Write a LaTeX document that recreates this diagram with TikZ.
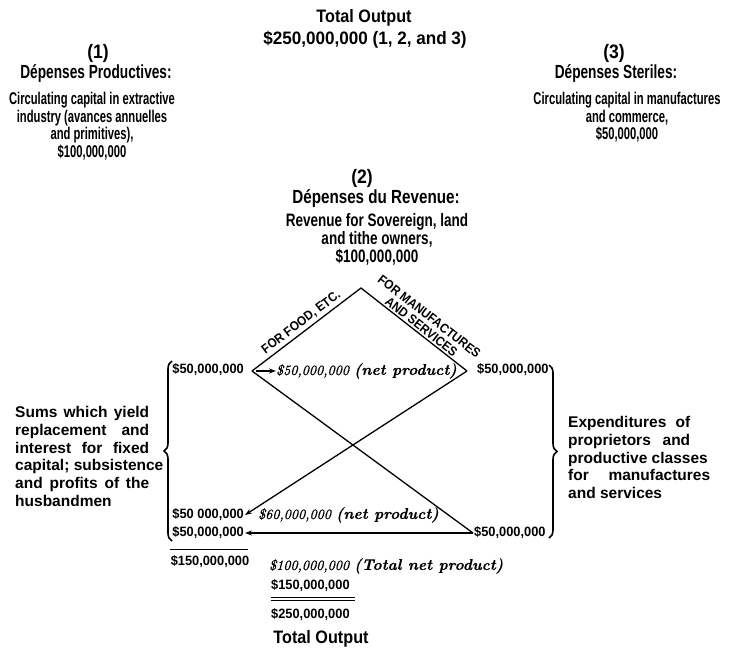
\documentclass[tikz,border=0pt]{standalone}
\usepackage{fontspec}
\usetikzlibrary{arrows.meta,decorations.pathreplacing}
\newfontfamily\fTop{Liberation Sans}[FakeStretch=0.9]
\newfontfamily\fTopN{Liberation Sans}[FakeStretch=0.95]
\newfontfamily\fHead{Liberation Sans}[FakeStretch=0.72]
\newfontfamily\fHeadB{Liberation Sans}[FakeStretch=0.8]
\newfontfamily\fBody{Liberation Sans}[FakeStretch=0.66]
\newfontfamily\fBodyB{Liberation Sans}[FakeStretch=0.75]
\newfontfamily\fSide{Liberation Sans}
\newfontfamily\fNum{Liberation Sans}[FakeStretch=0.95]
\newfontfamily\fLab{Liberation Sans}[FakeStretch=0.9]
\newfontfamily\fIt{lmroman10-italic.otf}[FakeBold=0.7]
\newfontfamily\fBI{lmroman10-bolditalic.otf}[FakeBold=0.4]
\newcommand\jbox[2]{\makebox[#1][s]{#2}}
\newcommand\bitext[1]{{\fBI\fontsize{15.5}{17}\selectfont#1}}
\begin{document}
\begin{tikzpicture}[x=1pt,y=-1pt,
  txt/.style={inner sep=0pt, align=center},
  toptxt/.style={txt, font=\fTop\bfseries\fontsize{18}{20}\selectfont},
  topnum/.style={txt, font=\fTopN\bfseries\fontsize{18}{20}\selectfont},
  numhead/.style={txt, font=\fTop\bfseries\fontsize{19.5}{20}\selectfont},
  headtxt/.style={txt, font=\fHead\bfseries\fontsize{19}{20}\selectfont},
  headtxtB/.style={txt, font=\fHeadB\bfseries\fontsize{19}{20}\selectfont},
  bodytxt/.style={txt, font=\fBody\bfseries\fontsize{17}{17.6}\selectfont},
  bodytxtB/.style={txt, font=\fBodyB\bfseries\fontsize{18}{18}\selectfont},
  sidetxt/.style={inner sep=0pt, align=left, font=\fSide\bfseries\fontsize{15.5}{17.8}\selectfont},
  numtxt/.style={inner sep=1pt, font=\fNum\bfseries\fontsize{13.5}{14}\selectfont},
  italtxt/.style={inner sep=0pt, font=\fIt\fontsize{14}{17}\selectfont},
  labtxt/.style={inner sep=3pt, font=\fLab\bfseries\fontsize{13}{13}\selectfont},
  ln/.style={line width=1.3pt},
  arr/.style={ln, -{Stealth[length=7pt,width=5pt]}},
  brc/.style={line width=1.6pt, decorate, decoration={brace, amplitude=8pt}}
]
\useasboundingbox (0,0) rectangle (731,649);

% top
\node[toptxt, anchor=north] (tot) at (364,9) {Total Output};
\node[topnum, anchor=north] (totv) at (365,31) {\$250,000,000 (1, 2, and 3)};

% block 1
\node[numhead, anchor=north] (n1) at (98,44) {(1)};
\node[headtxt, anchor=north] (h1) at (96,64) {Dépenses Productives:};
\node[bodytxt, anchor=north] (b1) at (92,92) {Circulating capital in extractive\\industry (avances annuelles\\and primitives),\\\$100,000,000};

% block 3
\node[numhead, anchor=north] (n3) at (614,44) {(3)};
\node[headtxt, anchor=north] (h3) at (616,64) {Dépenses Steriles:};
\node[bodytxt, anchor=north] (b3) at (627,92) {Circulating capital in manufactures\\and commerce,\\\$50,000,000};

% block 2
\node[numhead, anchor=north] (n2) at (362,169) {(2)};
\node[headtxtB, anchor=north] (h2) at (376,189) {Dépenses du Revenue:};
\node[bodytxtB, anchor=north] (b2) at (377,213) {Revenue for Sovereign, land\\and tithe owners,\\\$100,000,000};

% diamond points
\coordinate (A) at (361,288);
\coordinate (L) at (252,371);
\coordinate (R) at (467,371);
\coordinate (Ls) at (256,371);

% amounts
\node[numtxt, anchor=east] (tl) at (245,370) {\$50,000,000};
\node[numtxt, anchor=west] (tr) at (476,370) {\$50,000,000};
\node[italtxt, anchor=west] (netA) at (276,371) {\$50,000,000 \bitext{(net product)}};
\node[numtxt, anchor=east] (bl1) at (245,515) {\$50 000,000};
\node[numtxt, anchor=east] (bl2) at (245,533) {\$50,000,000};
\node[italtxt, anchor=west] (netB) at (258,515) {\$60,000,000 \bitext{(net product)}};
\node[numtxt, anchor=west] (br) at (473,533) {\$50,000,000};
\node[numtxt, anchor=center] (s150) at (210,562) {\$150,000,000};
\node[italtxt, anchor=west] (tnp) at (269,566) {\$100,000,000 \bitext{(Total net product)}};
\node[numtxt, anchor=west] (b150) at (270,586) {\$150,000,000};
\node[numtxt, anchor=west] (b250) at (270,615) {\$250,000,000};
\node[toptxt, anchor=north] (tot2) at (321,630) {Total Output};

% lines
\draw[ln] (L) -- (A) -- (R);
\draw[ln] (L) -- (br.west);
\draw[arr] (R) -- (bl1.east);
\draw[arr] (br.west) -- (bl2.east);
\draw[arr] (Ls) -- (netA.west);
\path (L) -- node[labtxt, sloped, above, pos=0.5] (food) {FOR FOOD, ETC.} (A);
\path (A) -- node[labtxt, sloped, above, pos=0.53, align=center, inner sep=2pt] (manu) {FOR MANUFACTURES\\AND SERVICES} (R);

% rules
\draw[line width=0.9pt] (170,549) -- (248,549);
\draw[line width=0.9pt] (271,597) -- (355,597);
\draw[line width=0.9pt] (271,600.5) -- (355,600.5);

% braces
\draw[brc] (172,541) -- (172,361);
\draw[brc] (549,365) -- (549,538);

% side texts
\node[sidetxt, anchor=north west] (left) at (15,406) {\jbox{134pt}{Sums which yield}\\\jbox{134pt}{replacement and}\\\jbox{134pt}{interest for fixed}\\capital; subsistence\\\jbox{134pt}{and profits of the}\\husbandmen};
\node[sidetxt, anchor=north west] (right) at (568,416) {\jbox{122pt}{Expenditures of}\\\jbox{122pt}{proprietors and}\\productive classes\\\jbox{142pt}{for manufactures}\\and services};
\end{tikzpicture}
\end{document}
